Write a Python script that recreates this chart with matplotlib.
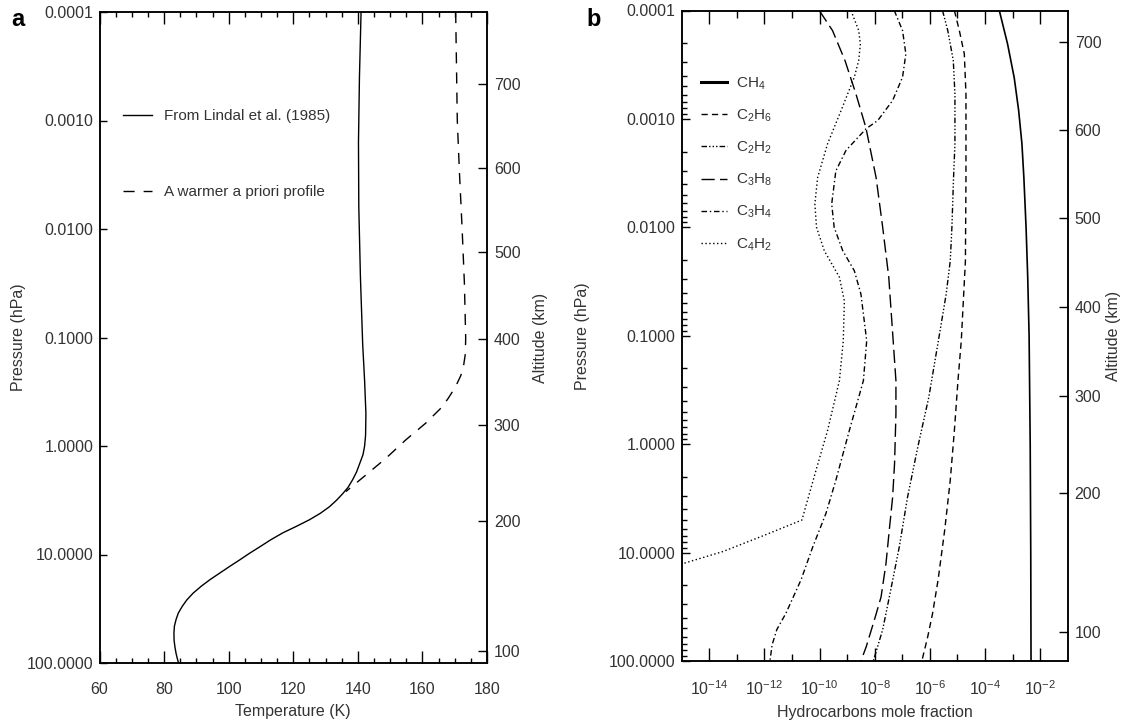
import numpy as np
import matplotlib
matplotlib.use('Agg')
import matplotlib.pyplot as plt
from matplotlib.ticker import (FixedLocator, NullLocator, FuncFormatter,
                               MultipleLocator, NullFormatter)

# ---------------- data ----------------
# Panel a: temperature profiles, log10(pressure / hPa) vs temperature (K)
lindal_logp = [-4.0, -3.4, -2.8, -2.2, -1.56, -0.94, -0.6, -0.3, -0.1, 0.0,
               0.08, 0.16, 0.24, 0.31, 0.38, 0.44, 0.50, 0.56, 0.62, 0.68,
               0.74, 0.80, 0.865, 0.93, 0.99, 1.05, 1.11, 1.17, 1.23, 1.29,
               1.356, 1.42, 1.479, 1.54, 1.60, 1.66, 1.724, 1.79, 1.85, 1.91,
               1.96, 2.0]
lindal_T = [141.0, 140.5, 140.2, 140.3, 140.8, 141.5, 142.1, 142.5, 142.4, 142.1,
            141.6, 140.6, 139.6, 138.4, 137.0, 135.3, 133.4, 131.2, 128.4, 125.0,
            121.0, 116.8, 113.0, 109.6, 106.4, 103.4, 100.3, 97.3, 94.3, 91.6,
            89.0, 87.0, 85.6, 84.4, 83.7, 83.2, 83.05, 83.1, 83.35, 83.7,
            84.1, 84.5]
warm_logp = [-4.0, -3.0, -2.5, -2.0, -1.5, -1.0, -0.85, -0.75, -0.65, -0.58,
             -0.515, -0.44, -0.36, -0.21, -0.055, 0.113, 0.267, 0.42]
warm_T = [170.3, 170.8, 171.5, 172.3, 173.0, 173.4, 173.3, 172.8, 171.9, 170.8,
          169.6, 168.0, 166.1, 161.0, 154.8, 148.7, 142.5, 136.3]
# altitude axis of panel a (km) and the log10 pressure at which each sits
alt_labels_a = ['100', '200', '300', '400', '500', '600', '700']
alt_logp_a = [1.889, 0.691, -0.194, -0.986, -1.788, -2.562, -3.336]

# Panel b: hydrocarbon profiles, log10(pressure / hPa) vs log10(mole fraction)
ch4_logp = [-4.0, -3.69, -3.38, -3.08, -2.77, -2.46, -2.0, -1.54, -1.0, 0.0, 1.0, 2.0]
ch4_logx = [-3.48, -3.18, -2.94, -2.78, -2.66, -2.59, -2.51, -2.45, -2.40, -2.36, -2.34, -2.33]

c2h6_logp = [-4.0, -3.815, -3.6, -3.23, -2.46, -1.69, -0.954, -0.586, -0.126,
             0.334, 0.79, 1.25, 1.56, 1.78, 2.0]
c2h6_logx = [-5.11, -4.93, -4.75, -4.69, -4.69, -4.71, -4.86, -4.98, -5.11,
             -5.26, -5.46, -5.70, -5.90, -6.08, -6.29]

c2h2_logp = [-4.0, -3.815, -3.54, -3.23, -2.77, -2.46, -2.0, -1.69, -1.38, -0.97,
             -0.43, 0.03, 0.49, 0.95, 1.41, 1.71, 2.0]
c2h2_logx = [-5.54, -5.35, -5.15, -5.09, -5.09, -5.14, -5.20, -5.26, -5.41, -5.68,
             -6.04, -6.44, -6.81, -7.11, -7.47, -7.71, -8.05]

c3h8_logp = [-4.0, -3.815, -3.54, -3.23, -2.92, -2.46, -2.0, -1.54, -0.954,
             -0.586, -0.28, 0.18, 0.49, 0.79, 1.10, 1.41, 1.62, 1.87, 2.0]
c3h8_logx = [-10.01, -9.53, -9.08, -8.68, -8.32, -7.95, -7.71, -7.49, -7.33,
             -7.23, -7.23, -7.28, -7.35, -7.47, -7.59, -7.77, -8.01, -8.31, -8.50]

c3h4_logp = [-4.0, -3.815, -3.6, -3.385, -3.17, -2.985, -2.91, -2.71, -2.52,
             -2.215, -2.0, -1.785, -1.6, -1.385, -0.954, -0.586, -0.126, 0.334,
             0.64, 0.95, 1.25, 1.56, 1.71, 1.85, 2.0]
c3h4_logx = [-7.29, -6.99, -6.87, -6.99, -7.35, -7.89, -8.31, -9.04, -9.41,
             -9.56, -9.47, -9.16, -8.74, -8.50, -8.29, -8.41, -8.92, -9.41,
             -9.77, -10.25, -10.67, -11.22, -11.55, -11.72, -11.80]

c4h2_logp = [-4.0, -3.815, -3.69, -3.54, -3.385, -3.077, -2.77, -2.46, -2.215, -2.0,
             -1.785, -1.54, -1.32, -0.954, -0.586, -0.126, 0.242, 0.70, 0.84,
             0.99, 1.105, 1.12]
c4h2_logx = [-8.86, -8.58, -8.52, -8.58, -8.74, -9.22, -9.71, -10.07, -10.17, -10.11,
             -9.83, -9.28, -9.10, -9.14, -9.28, -9.71, -10.13, -10.64, -12.0,
             -13.5, -15.0, -15.3]

species_labels = ['CH$_4$', 'C$_2$H$_6$', 'C$_2$H$_2$', 'C$_3$H$_8$', 'C$_3$H$_4$', 'C$_4$H$_2$']

# altitude axis of panel b (km) and the log10 pressure at which each sits
alt_labels_b = ['100', '200', '300', '400', '500', '600', '700']
alt_logp_b = [1.733, 0.451, -0.443, -1.265, -2.086, -2.898, -3.709]

pressure_decades = [-4, -3, -2, -1, 0, 1, 2]

# ---------------- style ----------------
plt.rcParams['font.family'] = ['Liberation Sans', 'DejaVu Sans']
plt.rcParams['mathtext.fontset'] = 'custom'
plt.rcParams['mathtext.rm'] = 'Liberation Sans'
plt.rcParams['mathtext.it'] = 'Liberation Sans:italic'
plt.rcParams['mathtext.bf'] = 'Liberation Sans:bold'
plt.rcParams['mathtext.default'] = 'regular'
plt.rcParams['axes.linewidth'] = 1.1
TXT = '#333333'
FS = 11
TFS = 11.5
LFS = 11.5

W, H = 1126, 724
fig = plt.figure(figsize=(W / 100, H / 100), dpi=100)


def rect(x0, x1, y0, y1):
    return [x0 / W, 1 - y1 / H, (x1 - x0) / W, (y1 - y0) / H]


def p_fmt(v, pos):
    return f'{v:.4f}'


# ---------------- panel a ----------------
axL = fig.add_axes(rect(99.5, 487, 12, 663))
axL.plot(lindal_T, 10 ** np.array(lindal_logp), color='k', lw=1.0,
         label='From Lindal et al. (1985)')
axL.plot(warm_T, 10 ** np.array(warm_logp), color='k', lw=1.0, dashes=(8, 6.5),
         label='A warmer a priori profile')
axL.set_yscale('log')
axL.set_ylim(100, 1e-4)
axL.set_xlim(60, 180)
axL.xaxis.set_major_locator(MultipleLocator(20))
axL.xaxis.set_minor_locator(MultipleLocator(5))
axL.yaxis.set_major_locator(FixedLocator(10.0 ** np.array(pressure_decades)))
axL.yaxis.set_minor_locator(NullLocator())
axL.yaxis.set_major_formatter(FuncFormatter(p_fmt))
axL.tick_params(axis='x', which='major', direction='in', length=8.5, width=1.0,
                top=True, pad=13.5, labelsize=TFS, labelcolor=TXT)
axL.tick_params(axis='x', which='minor', direction='in', length=3.8, width=1.0, top=True)
axL.tick_params(axis='y', which='major', direction='in', length=5, width=1.0,
                right=False, pad=4.5, labelsize=TFS, labelcolor=TXT)
axL.set_xlabel('Temperature (K)', fontsize=LFS, color=TXT, labelpad=5)
axL.set_ylabel('Pressure (hPa)', fontsize=LFS, color=TXT)
axL.yaxis.set_label_coords(-0.19, 0.5)
legL = axL.legend(loc='upper left', bbox_to_anchor=(0.06, 0.851), frameon=False,
                  fontsize=FS, handlelength=1.9, handletextpad=0.8, labelspacing=4.05,
                  borderpad=0, borderaxespad=0, labelcolor=TXT)

tL = axL.twinx()
tL.set_yscale('log')
tL.set_ylim(100, 1e-4)
tL.yaxis.set_major_locator(FixedLocator(10 ** np.array(alt_logp_a)))
tL.yaxis.set_minor_locator(NullLocator())
tL.set_yticklabels(alt_labels_a)
tL.tick_params(axis='y', direction='in', length=6.5, width=1.0, pad=5,
               labelsize=TFS, labelcolor=TXT)
tL.set_ylabel('Altitude (km)', fontsize=LFS, color=TXT)
tL.yaxis.set_label_coords(1.119, 0.5)

# ---------------- panel b ----------------
axR = fig.add_axes(rect(681.7, 1067.7, 10.5, 661))
series = [
    (ch4_logx, ch4_logp, dict(linestyle='-', lw=1.2)),
    (c2h6_logx, c2h6_logp, dict(dashes=(4.5, 3.0), lw=1.0)),
    (c2h2_logx, c2h2_logp, dict(dashes=(4, 1.5, 1, 1.5, 1, 1.5, 1, 1.5), lw=1.0)),
    (c3h8_logx, c3h8_logp, dict(dashes=(9.5, 3.8), lw=1.0)),
    (c3h4_logx, c3h4_logp, dict(dashes=(4, 2, 1, 2), lw=1.0)),
    (c4h2_logx, c4h2_logp, dict(dashes=(1, 1.8), lw=1.0)),
]
for (lx, lp, sty), lab in zip(series, species_labels):
    axR.plot(10 ** np.array(lx), 10 ** np.array(lp), color='k', label=lab, **sty)
axR.set_xscale('log')
axR.set_yscale('log')
axR.set_xlim(1e-15, 1e-1)
axR.set_ylim(100, 1e-4)
axR.xaxis.set_major_locator(FixedLocator(10.0 ** np.arange(-14, -1, 2)))
axR.xaxis.set_minor_locator(FixedLocator(10.0 ** np.arange(-13, -2, 2)))
axR.xaxis.set_major_formatter(FuncFormatter(
    lambda v, pos: r'$\mathregular{10^{%d}}$' % int(round(np.log10(v)))))
axR.xaxis.set_minor_formatter(NullFormatter())
axR.yaxis.set_major_locator(FixedLocator(10.0 ** np.array(pressure_decades)))
axR.yaxis.set_minor_locator(FixedLocator(
    [m * 10.0 ** d for d in pressure_decades[:-1] for m in range(2, 10)]))
axR.yaxis.set_major_formatter(FuncFormatter(p_fmt))
axR.yaxis.set_minor_formatter(NullFormatter())
axR.tick_params(axis='x', which='major', direction='in', length=9.3, width=1.0,
                top=True, pad=13.5, labelsize=TFS, labelcolor=TXT)
axR.tick_params(axis='x', which='minor', direction='in', length=5, width=1.0, top=True)
axR.tick_params(axis='y', which='major', direction='in', length=5.8, width=1.0,
                right=False, pad=4.5, labelsize=TFS, labelcolor=TXT)
axR.tick_params(axis='y', which='minor', direction='in', length=3.6, width=1.0, right=False)
axR.set_xlabel('Hydrocarbons mole fraction', fontsize=LFS, color=TXT, labelpad=5)
axR.set_ylabel('Pressure (hPa)', fontsize=LFS, color=TXT)
axR.yaxis.set_label_coords(-0.238, 0.5)
legR = axR.legend(loc='upper left', bbox_to_anchor=(0.05, 0.9), frameon=False,
                  fontsize=FS, handlelength=1.68, handletextpad=0.6, labelspacing=1.03,
                  borderpad=0, borderaxespad=0, labelcolor=TXT)
legR.get_lines()[0].set_linewidth(2.2)

tR = axR.twinx()
tR.set_yscale('log')
tR.set_ylim(100, 1e-4)
tR.yaxis.set_major_locator(FixedLocator(10 ** np.array(alt_logp_b)))
tR.yaxis.set_minor_locator(NullLocator())
tR.set_yticklabels(alt_labels_b)
tR.tick_params(axis='y', direction='in', length=6.5, width=1.0, pad=5,
               labelsize=TFS, labelcolor=TXT)
tR.set_ylabel('Altitude (km)', fontsize=LFS, color=TXT)
tR.yaxis.set_label_coords(1.1, 0.5)

# panel letters
fig.text(18 / W, 1 - 20 / H, 'a', fontsize=17, fontweight='bold', ha='center', va='center')
fig.text(594 / W, 1 - 20 / H, 'b', fontsize=17, fontweight='bold', ha='center', va='center')

fig.savefig('out.png', dpi=100)
